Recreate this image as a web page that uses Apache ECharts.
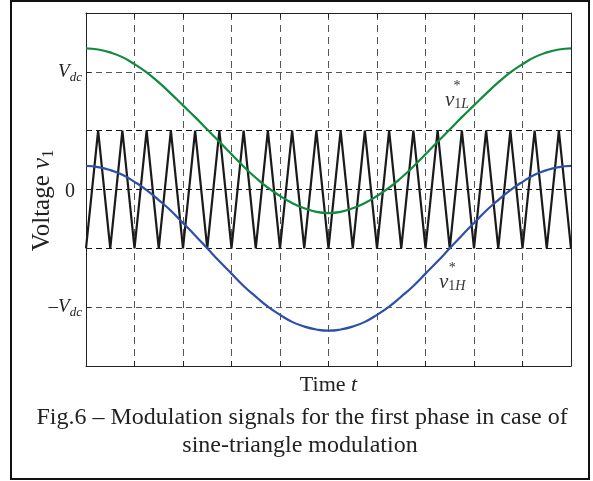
<!DOCTYPE html>
<html>
<head>
<meta charset="utf-8">
<script src="https://cdn.jsdelivr.net/npm/echarts@6/dist/echarts.min.js"></script>
<style>
  html, body { margin: 0; padding: 0; background: #fff; }
  #chart { width: 593px; height: 481px; }
</style>
</head>
<body>
<div id="chart"></div>
<script>
// time samples for the two reference signals (grid units)
var sineTimes = [0, 0.25, 0.5, 0.75, 1, 1.25, 1.5, 1.75, 2, 2.25, 2.5, 2.75, 3, 3.25, 3.5, 3.75, 4, 4.25, 4.5, 4.75, 5,
  5.25, 5.5, 5.75, 6, 6.25, 6.5, 6.75, 7, 7.25, 7.5, 7.75, 8, 8.25, 8.5, 8.75, 9, 9.25, 9.5, 9.75, 10]
// v1L* (green) and v1H* (blue), in units where Vdc = 2
var v1L = [2.40, 2.38, 2.33, 2.25, 2.13, 1.99, 1.82, 1.63, 1.43, 1.23, 1.02, 0.81, 0.60, 0.39, 0.20, 0.03, -0.11, -0.23, -0.32, -0.38, -0.40,
  -0.38, -0.32, -0.23, -0.11, 0.03, 0.20, 0.39, 0.60, 0.81, 1.02, 1.23, 1.43, 1.63, 1.82, 1.99, 2.13, 2.25, 2.33, 2.38, 2.40]
var v1H = [0.40, 0.38, 0.33, 0.25, 0.13, -0.01, -0.18, -0.36, -0.57, -0.78, -1.00, -1.22, -1.43, -1.64, -1.82, -1.99, -2.13, -2.25, -2.33, -2.38, -2.40,
  -2.38, -2.33, -2.25, -2.13, -1.99, -1.82, -1.64, -1.43, -1.22, -1.00, -0.78, -0.57, -0.36, -0.18, -0.01, 0.13, 0.25, 0.33, 0.38, 0.40]
// carrier (triangle) corners
var triTimes = [0, 0.25, 0.5, 0.75, 1, 1.25, 1.5, 1.75, 2, 2.25, 2.5, 2.75, 3, 3.25, 3.5, 3.75, 4, 4.25, 4.5, 4.75, 5,
  5.25, 5.5, 5.75, 6, 6.25, 6.5, 6.75, 7, 7.25, 7.5, 7.75, 8, 8.25, 8.5, 8.75, 9, 9.25, 9.5, 9.75, 10]
var triValues = [-1, 1, -1, 1, -1, 1, -1, 1, -1, 1, -1, 1, -1, 1, -1, 1, -1, 1, -1, 1, -1,
  1, -1, 1, -1, 1, -1, 1, -1, 1, -1, 1, -1, 1, -1, 1, -1, 1, -1, 1, -1]
// y tick labels (only these ticks are labelled)
var yTickLabels = { '2': '{i|V}{s|dc}', '0': '{z|0}', '-2': '{n|–}{i|V}{s|dc}' }
// annotation anchors [t, value]
var labelL = [7.65, 1.57]
var labelH = [7.55, -1.53]

var serif = '"Liberation Serif", "Times New Roman", serif'

function pairs(xs, ys) {
  return xs.map(function (x, i) { return [x, ys[i]] })
}

var subRich = {
  st: { fontFamily: serif, fontSize: 14, lineHeight: 6, color: '#333' },
  v: { fontFamily: serif, fontStyle: 'italic', fontSize: 21, lineHeight: 22, color: '#333' },
  n: { fontFamily: serif, fontSize: 14, lineHeight: 14, verticalAlign: 'bottom', color: '#333' },
  it: { fontFamily: serif, fontStyle: 'italic', fontSize: 14, lineHeight: 14, verticalAlign: 'bottom', color: '#333' }
}

function annot(coord, letter) {
  return {
    symbol: 'circle',
    symbolSize: 0,
    silent: true,
    data: [{ coord: coord }],
    label: {
      show: true,
      position: 'inside',
      formatter: '{st|*}\n{v|v}{n|1}{it|' + letter + '}',
      rich: subRich
    }
  }
}

var chart = echarts.init(document.getElementById('chart'))

chart.setOption({
  animation: false,
  backgroundColor: '#fff',
  grid: { left: 86, top: 13, right: 22, bottom: 115 },
  xAxis: [{
    type: 'value',
    min: 0,
    max: 10,
    interval: 1,
    name: 'Time {i|t}',
    nameLocation: 'middle',
    nameGap: 8,
    nameMoveOverlap: false,
    nameTextStyle: {
      fontFamily: serif, fontSize: 22, color: '#222', verticalAlign: 'top',
      rich: { i: { fontFamily: serif, fontStyle: 'italic', fontSize: 22, color: '#222' } }
    },
    axisLine: { onZero: false, lineStyle: { color: '#222', width: 1 } },
    axisTick: { inside: true, length: 5, lineStyle: { color: '#222' } },
    axisLabel: { show: false },
    splitLine: { show: true, lineStyle: { color: '#555', type: [7, 5], width: 1 } }
  }, {
    type: 'value',
    position: 'top',
    min: 0,
    max: 10,
    interval: 1,
    axisLine: { show: true, onZero: false, lineStyle: { color: '#222', width: 1 } },
    axisTick: { inside: true, length: 5, lineStyle: { color: '#222' } },
    axisLabel: { show: false },
    splitLine: { show: false }
  }],
  yAxis: [{
    type: 'value',
    min: -3,
    max: 3,
    interval: 1,
    name: 'Voltage {i|v}{s|1}',
    nameLocation: 'middle',
    nameRotate: 90,
    nameGap: 29,
    nameMoveOverlap: false,
    nameTextStyle: {
      fontFamily: serif, fontSize: 25, color: '#222', lineHeight: 30,
      padding: [0, 22, 0, 0],
      rich: {
        i: { fontFamily: serif, fontStyle: 'italic', fontSize: 25, lineHeight: 30, color: '#222' },
        s: { fontFamily: serif, fontSize: 16, lineHeight: 18, verticalAlign: 'bottom', color: '#222' }
      }
    },
    axisLine: { onZero: false, lineStyle: { color: '#222', width: 1 } },
    axisTick: { inside: true, length: 5, lineStyle: { color: '#222' } },
    axisLabel: {
      margin: 4,
      formatter: function (v) { return yTickLabels[String(v)] || '' },
      rich: {
        i: { fontFamily: serif, fontStyle: 'italic', fontSize: 19, lineHeight: 24, color: '#222' },
        s: { fontFamily: serif, fontStyle: 'italic', fontSize: 13, lineHeight: 14, verticalAlign: 'bottom', color: '#222' },
        n: { fontFamily: serif, fontSize: 19, lineHeight: 24, color: '#222' },
        z: { fontFamily: serif, fontSize: 20, lineHeight: 24, color: '#222', padding: [4, 7, 0, 0] }
      }
    },
    splitLine: {
      show: true,
      lineStyle: { color: ['#222', '#555', '#111', '#111', '#111', '#555', '#222'], type: [6, 4], width: 1 }
    }
  }, {
    type: 'value',
    position: 'right',
    min: -3,
    max: 3,
    interval: 1,
    axisLine: { show: true, onZero: false, lineStyle: { color: '#222', width: 1 } },
    axisTick: { show: true, inside: true, length: 5, lineStyle: { color: '#222' } },
    axisLabel: { show: false },
    splitLine: { show: false }
  }],
  series: [
    {
      name: 'carrier',
      type: 'line',
      data: pairs(triTimes, triValues),
      showSymbol: false,
      lineStyle: { color: '#1a1a1a', width: 2.2 },
      z: 3
    },
    {
      name: 'v1L',
      type: 'line',
      smooth: true,
      data: pairs(sineTimes, v1L),
      showSymbol: false,
      lineStyle: { color: '#108a3e', width: 2.2 },
      markPoint: annot(labelL, 'L'),
      z: 4
    },
    {
      name: 'v1H',
      type: 'line',
      smooth: true,
      data: pairs(sineTimes, v1H),
      showSymbol: false,
      lineStyle: { color: '#2c4fa7', width: 2.2 },
      markPoint: annot(labelH, 'H'),
      z: 4
    }
  ],
  graphic: [
    {
      type: 'rect',
      shape: { x: 11, y: 1, width: 578, height: 478 },
      style: { fill: 'none', stroke: '#111', lineWidth: 2 },
      silent: true
    },
    {
      type: 'text',
      x: 302,
      y: 418,
      style: {
        text: 'Fig.6 – Modulation signals for the first phase in case of',
        font: '24px ' + serif,
        fill: '#222',
        textAlign: 'center',
        textVerticalAlign: 'middle'
      }
    },
    {
      type: 'text',
      x: 300,
      y: 446,
      style: {
        text: 'sine-triangle modulation',
        font: '24px ' + serif,
        fill: '#222',
        textAlign: 'center',
        textVerticalAlign: 'middle'
      }
    }
  ]
})
</script>
</body>
</html>
